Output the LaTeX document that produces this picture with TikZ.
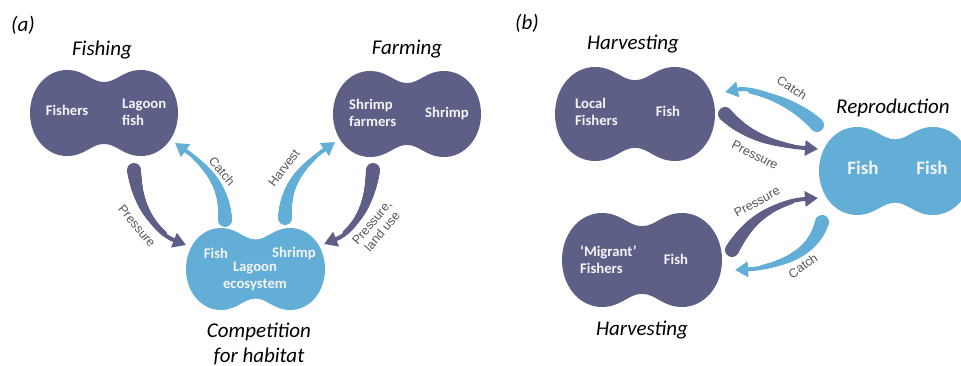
\documentclass[tikz,border=0pt]{standalone}
\usepackage{fontspec}
\setmainfont{Carlito}
\newfontfamily\labfont{Liberation Sans}
\usetikzlibrary{arrows.meta,decorations.markings}
\definecolor{dark}{HTML}{5D5F87}
\definecolor{light}{HTML}{62AED6}
\definecolor{lblgray}{HTML}{555555}
\definecolor{blobtxt}{HTML}{F4F4F8}
\tikzset{
  blobbox/.style={draw=none, inner sep=0pt},
  blobtext/.style={font=\bfseries\fontsize{14.7}{17}\selectfont, text=blobtxt, inner sep=0pt},
  bigblobtext/.style={font=\bfseries\fontsize{19}{22}\selectfont, text=blobtxt, inner sep=0pt},
  title/.style={font=\itshape\fontsize{21}{25}\selectfont, text=black, inner sep=0pt},
  lbl/.style={font=\labfont\fontsize{12.5}{13.5}\selectfont, text=lblgray, inner sep=0pt, align=center},
  taper/.style n args={3}{
    draw=#1, line width=2*#3 pt, -{Triangle[length=13pt,width=15pt]},
    postaction={decorate, decoration={markings,
      mark=between positions 0 and 0.75 step 0.01 with {%
        \pgfmathsetmacro\tprad{#2-(#2-#3)*(\pgfkeysvalueof{/pgf/decoration/mark info/sequence number}-1)/75}%
        \fill[#1] (0,0) circle[radius=\tprad pt];}}}
  }
}
\newcommand\peanut[6]{%
  \fill[#6, shift={(#2,#3)}, x=#4pt, y=-#5pt] (-1,0)
    .. controls (-1,-0.56) and (-0.78,-1) .. (-0.5,-1)
    .. controls (-0.26,-1) and (-0.17,-0.72) .. (0,-0.72)
    .. controls (0.17,-0.72) and (0.26,-1) .. (0.5,-1)
    .. controls (0.78,-1) and (1,-0.56) .. (1,0)
    .. controls (1,0.56) and (0.78,1) .. (0.5,1)
    .. controls (0.26,1) and (0.17,0.72) .. (0,0.72)
    .. controls (-0.17,0.72) and (-0.26,1) .. (-0.5,1)
    .. controls (-0.78,1) and (-1,0.56) .. (-1,0) -- cycle;
  \node[blobbox, minimum width=2*#4pt, minimum height=2*#5pt] (#1) at (#2,#3) {};
}
\begin{document}
\begin{tikzpicture}[x=1pt, y=-1pt]
\useasboundingbox (0,0) rectangle (961,366);
% ---------- (a) ----------
\node[title] (pa) at (23,25) {(a)};
\node[title] (tfishing) at (102,50) {Fishing};
\node[title] (tfarming) at (407,49) {Farming};
\node[title, align=center] (tcomp) at (259,344) {Competition\\ for habitat};

\peanut{fishing}{104}{113}{74}{43}{dark}
\peanut{farming}{407}{114}{74}{43}{dark}
\peanut{lagoon}{255.5}{269}{69.5}{41}{light}

\node[blobtext] (fishers) at (67,110) {Fishers};
\node[blobtext, anchor=west, align=left] (lagoonfish) at (122,112.5) {Lagoon\\fish};
\node[blobtext, anchor=west, align=left] (shrimpfarmers) at (349,113) {Shrimp\\farmers};
\node[blobtext] (shrimpa) at (447,113) {Shrimp};
\node[blobtext] (fisha) at (216,253) {Fish};
\node[blobtext] (shrimpb) at (294,253) {Shrimp};
\node[blobtext, align=center] (lagoonecos) at (255,276.5) {Lagoon\\ecosystem};

\draw[taper={dark}{7}{2}] ([shift={(30,57)}]fishing.center) .. controls +(4,40) and +(-30,-12) .. ([shift={(-69.5,-24)}]lagoon.center);
\draw[taper={light}{7}{2}] ([shift={(-30.5,-49)}]lagoon.center) .. controls +(0,-40) and +(25,18) .. ([shift={(71,30)}]fishing.center);
\draw[taper={light}{7}{2}] ([shift={(29.5,-51)}]lagoon.center) .. controls +(0,-40) and +(-25,18) .. ([shift={(-72,28)}]farming.center);
\draw[taper={dark}{7}{2}] ([shift={(-34,56)}]farming.center) .. controls +(-4,40) and +(30,-12) .. ([shift={(68.5,-25)}]lagoon.center);

\node[lbl, rotate=-50] (lpress1) at (137,226) {Pressure};
\node[lbl, rotate=-50] (lcatch1) at (222,171) {Catch};
\node[lbl, rotate=53] (lharv) at (284,168) {Harvest};
\node[lbl, rotate=50] (lpress2) at (377,227) {Pressure,\\land use};

% ---------- (b) ----------
\node[title] (pb) at (527,23) {(b)};
\node[title] (tharv1) at (633,44) {Harvesting};
\node[title] (tharv2) at (642,330) {Harvesting};
\node[title, anchor=west] (trepro) at (836,108) {Reproduction};

\peanut{local}{635}{114}{80}{47}{dark}
\peanut{migrant}{642}{260}{80}{47}{dark}
\peanut{repro}{895}{171}{76}{44}{light}

\node[blobtext, anchor=west, align=left] (localfishers) at (575,111.5) {Local\\Fishers};
\node[blobtext] (fishb1) at (668,111) {Fish};
\node[blobtext, anchor=west, align=left] (migrantfishers) at (580,259.5) {‘Migrant’\\Fishers};
\node[blobtext] (fishb2) at (676,259) {Fish};
\node[bigblobtext] (fishr1) at (863,168) {Fish};
\node[bigblobtext] (fishr2) at (932,168) {Fish};

\draw[taper={light}{7}{2}] ([shift={(-78,-46)}]repro.center) .. controls +(-22,-22) and +(30,-6) .. ([shift={(90,-22)}]local.center);
\draw[taper={dark}{7}{2}] ([shift={(90,0)}]local.center) .. controls +(25,25) and +(-40,-3) .. ([shift={(-77,-22)}]repro.center);
\draw[taper={dark}{7}{2}] ([shift={(90,-10)}]migrant.center) .. controls +(20,-35) and +(-40,3) .. ([shift={(-77,27)}]repro.center);
\draw[taper={light}{7}{2}] ([shift={(-73,51)}]repro.center) .. controls +(-10,35) and +(40,-2) .. ([shift={(93,10)}]migrant.center);

\node[lbl, rotate=-34] (lcatch2) at (792,88) {Catch};
\node[lbl, rotate=-27] (lpress3) at (755,155) {Pressure};
\node[lbl, rotate=29] (lpress4) at (757,202) {Pressure};
\node[lbl, rotate=36] (lcatch3) at (803,266) {Catch};
\end{tikzpicture}
\end{document}
